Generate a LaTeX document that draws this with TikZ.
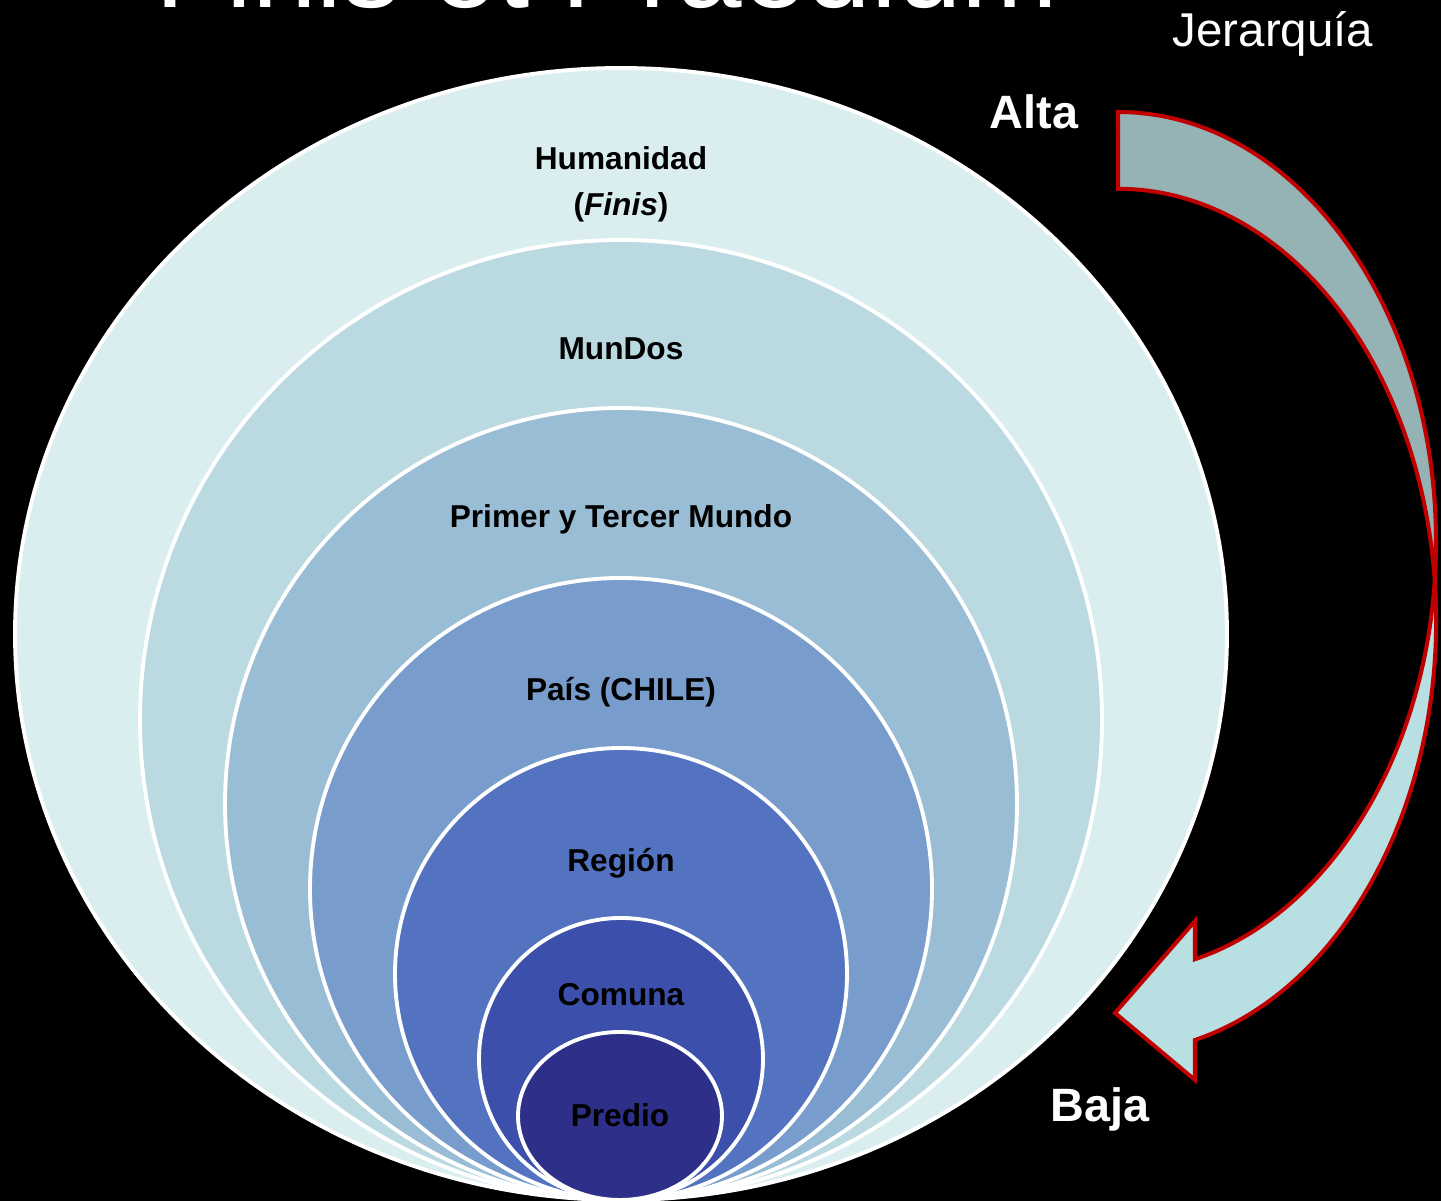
\documentclass[tikz,border=0pt]{standalone}
\usepackage{fontspec}
\setmainfont{Liberation Sans}
\usepackage{tikz}
\usetikzlibrary{positioning}
\definecolor{ringA}{HTML}{DAEEF0}
\definecolor{ringB}{HTML}{BAD9E1}
\definecolor{ringC}{HTML}{9ABDD6}
\definecolor{ringD}{HTML}{789CCB}
\definecolor{ringE}{HTML}{5373C1}
\definecolor{ringF}{HTML}{3C4FAA}
\definecolor{ringG}{HTML}{2E2F88}
\definecolor{arrback}{HTML}{95B3B5}
\definecolor{arrfront}{HTML}{B8DFE2}
\definecolor{arrred}{HTML}{C00000}

\begin{document}
\begin{tikzpicture}[
  x=0.01cm, y=-0.01cm,
  ring/.style={draw=white, line width=1.1pt},
  lvl/.style={font=\bfseries\fontsize{9}{13}\selectfont, text=black, align=center, inner sep=0pt},
  side/.style={font=\bfseries\fontsize{13.3}{16}\selectfont, text=white, inner sep=0pt, anchor=base},
  bigtitle/.style={font=\fontsize{33}{40}\selectfont, text=white, inner sep=0pt, anchor=base},
  arrline/.style={draw=arrred, line width=1.15pt},
]
  \useasboundingbox (0,0) rectangle (1441,1201);
  \fill[black] (0,0) rectangle (1441,1201);
  \node[bigtitle] (titulo) at (607,8) {Finis et Praedium};

  % Nested levels, outer to inner
  \filldraw[ring, fill=ringA] (621,634) ellipse [x radius=606, y radius=566];
  \filldraw[ring, fill=ringB] (621,720) ellipse [x radius=481, y radius=480];
  \filldraw[ring, fill=ringC] (621,804) ellipse [x radius=396, y radius=396];
  \filldraw[ring, fill=ringD] (621,889) ellipse [x radius=311, y radius=311];
  \filldraw[ring, fill=ringE] (621,974) ellipse [x radius=226, y radius=226];
  \filldraw[ring, fill=ringF] (621,1059) ellipse [x radius=142, y radius=141];
  \filldraw[ring, fill=ringG] (620,1116) ellipse [x radius=102, y radius=84];

  \node[lvl] (hum) at (621,184) {Humanidad\\(\textit{Finis})};
  \node[lvl, anchor=base] (mun) at (621,360) {MunDos};
  \node[lvl, anchor=base] (mundo) at (621,528) {Primer y Tercer Mundo};
  \node[lvl, anchor=base] (pais) at (621,701) {País (CHILE)};
  \node[lvl, anchor=base] (reg) at (621,872) {Región};
  \node[lvl, anchor=base] (com) at (621,1006) {Comuna};
  \node[lvl, anchor=base] (pre) at (620,1127) {Predio};

  % Curved arrow on the side
  \fill[arrback] (1118,112) arc[start angle=-90, end angle=5.2, x radius=318, y radius=430]
    arc[start angle=-5.2, end angle=-90, x radius=318, y radius=432] -- cycle;
  \fill[arrfront] (1434.7,581) arc[start angle=5.2, end angle=76, x radius=318, y radius=430]
    -- (1195,921) -- (1115,1013) -- (1195,1080) -- (1195,1040)
    arc[start angle=76, end angle=-5.2, x radius=318, y radius=432] -- cycle;
  \draw[arrline] (1118,112) arc[start angle=-90, end angle=76, x radius=318, y radius=430]
    -- (1195,921) -- (1115,1013) -- (1195,1080) -- (1195,1040)
    arc[start angle=76, end angle=-90, x radius=318, y radius=432] -- cycle;

  \node[side] (alta) at (1034,129) {Alta};
  \node[side] (baja) at (1100,1122) {Baja};
  \node[side, font=\fontsize{13.5}{16}\selectfont] (jer) at (1273,47) {Jerarquía};
\end{tikzpicture}
\end{document}
